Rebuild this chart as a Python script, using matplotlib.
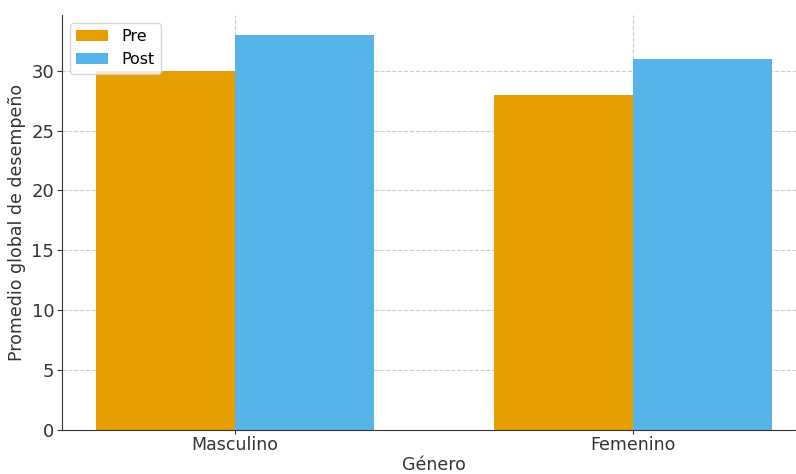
import matplotlib.pyplot as plt
import numpy as np

# Promedio global de desempeño por género, antes y después
generos = ["Masculino", "Femenino"]
pre = [30, 28]
post = [33, 31]

COL_PRE = "#E69F00"
COL_POST = "#56B4E9"
width = 0.35

fig = plt.figure(figsize=(7.96, 4.74), dpi=100)
# axes extends past the right edge, like the cropped reference
ax = fig.add_axes([62 / 796, 44 / 474, 744 / 796, 415 / 474])

x = np.arange(len(generos))
ax.bar(x - width / 2, pre, width, color=COL_PRE, label="Pre", zorder=2)
ax.bar(x + width / 2, post, width, color=COL_POST, label="Post", zorder=2)

ax.set_xticks(x)
ax.set_xticklabels(generos, fontsize=12.5, color="#333333")
ax.tick_params(axis="y", labelsize=13, colors="#333333", pad=2)
ax.tick_params(axis="x", colors="#333333", pad=1, length=3)
ax.set_ylim(0, max(post) * 1.05)
ax.set_xlabel("Género", fontsize=12.5, color="#333333", labelpad=2)
ax.set_ylabel("Promedio global de desempeño", fontsize=12.5, color="#333333")

ax.grid(True, linestyle="--", color="#cccccc", linewidth=0.8, zorder=0)
ax.set_axisbelow(True)
for s in ["top", "right"]:
    ax.spines[s].set_visible(False)
for s in ["left", "bottom"]:
    ax.spines[s].set_color("#333333")

ax.legend(loc="upper left", fontsize=11.5)

fig.savefig("out.png", dpi=100)
